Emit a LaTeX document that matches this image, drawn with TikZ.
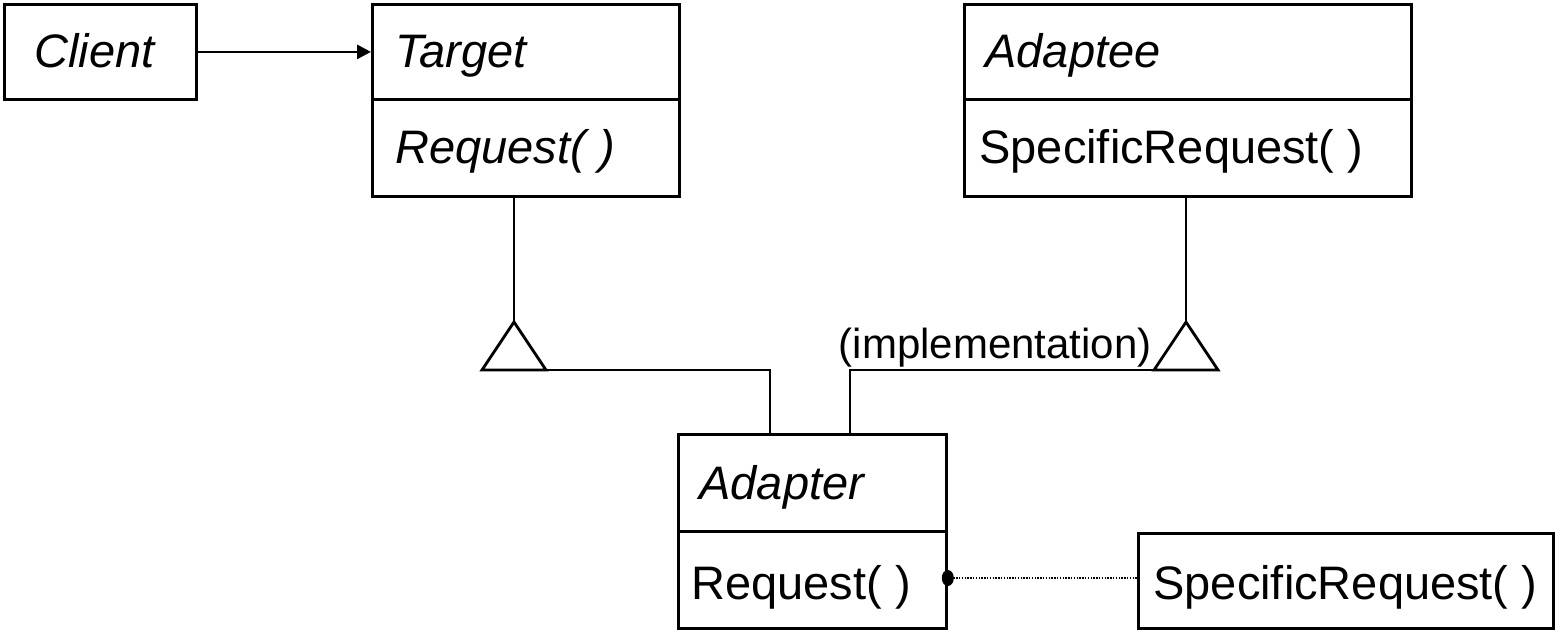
\documentclass[tikz,border=0pt]{standalone}
\usepackage{fontspec}
\setmainfont{Liberation Sans}
\usetikzlibrary{arrows.meta,calc}
\begin{document}
\begin{tikzpicture}[x=1pt,y=-1pt,
  every path/.style={line width=2.8pt},
  box/.style={draw, line width=2.8pt, inner sep=0pt, anchor=north west},
  lbl/.style={anchor=base west, inner sep=0pt, font=\fontsize{47}{52}\selectfont},
  small/.style={font=\fontsize{42}{48}\selectfont},
  gentri/.style={draw, line width=2.8pt, fill=white, line join=miter}
]
\useasboundingbox (0,0) rectangle (1555,629);

% classes
\node[box, minimum width=192pt, minimum height=95pt] (client) at (3,3) {};
\node[box, minimum width=307pt, minimum height=95pt] (tgtHead) at (371,3) {};
\node[box, minimum width=307pt, minimum height=97pt] (tgtBody) at (371,98) {};
\node[box, minimum width=447pt, minimum height=95pt] (adpHead) at (963,3) {};
\node[box, minimum width=447pt, minimum height=97pt] (adpBody) at (963,98) {};
\node[box, minimum width=268pt, minimum height=97pt] (adrHead) at (677,433) {};
\node[box, minimum width=268pt, minimum height=97pt] (adrBody) at (677,530) {};
\node[box, minimum width=415pt, minimum height=95pt] (note) at (1137,532) {};

% labels
\node[lbl] (tClient) at (33,67) {\itshape Client};
\node[lbl] (tTarget) at (394,67) {\itshape Target};
\node[lbl] (tTReq) at (394,163) {\itshape Request( )};
\node[lbl] (tAdaptee) at (984,67) {\itshape Adaptee};
\node[lbl] (tSpec) at (978,163) {SpecificRequest( )};
\node[lbl] (tAdapter) at (698,499) {\itshape Adapter};
\node[lbl] (tAReq) at (690,599) {Request( )};
\node[lbl] (tNote) at (1152,599) {SpecificRequest( )};
\node[lbl, small, anchor=base east] (tImpl) at (1153,358) {(implementation)};

% client association
\draw[-{Triangle[length=14pt,width=14pt]}] (client.east) -- (tgtHead.west);

% generalization Target <- Adapter
\coordinate (tApex) at (514,322);
\coordinate (tLeft) at (482,370);
\coordinate (tRight) at (546,370);
\draw (tApex |- tgtBody.south) -- (tApex);
\draw[gentri] (tLeft) -- (tApex) -- (tRight) -- cycle;
\coordinate (aLeftStem) at ($(adrHead.north west)+(93,0)$);
\draw (tRight) -- (tRight -| aLeftStem) -- (aLeftStem);

% generalization Adaptee <- Adapter
\coordinate (pApex) at (1186,322);
\coordinate (pLeft) at (1154,370);
\coordinate (pRight) at (1218,370);
\draw (pApex |- adpBody.south) -- (pApex);
\draw[gentri] (pLeft) -- (pApex) -- (pRight) -- cycle;
\coordinate (aRightStem) at ($(adrHead.north west)+(173,0)$);
\draw (pLeft) -- (pLeft -| aRightStem) -- (aRightStem);

% implementation note
\coordinate (dot) at (adrBody.east |- 0,578);
\draw[line width=1.4pt, dash pattern=on 1.4pt off 1.4pt] (dot) -- (dot -| note.west);
\fill (dot) ellipse [x radius=6pt, y radius=8pt];
\end{tikzpicture}
\end{document}
